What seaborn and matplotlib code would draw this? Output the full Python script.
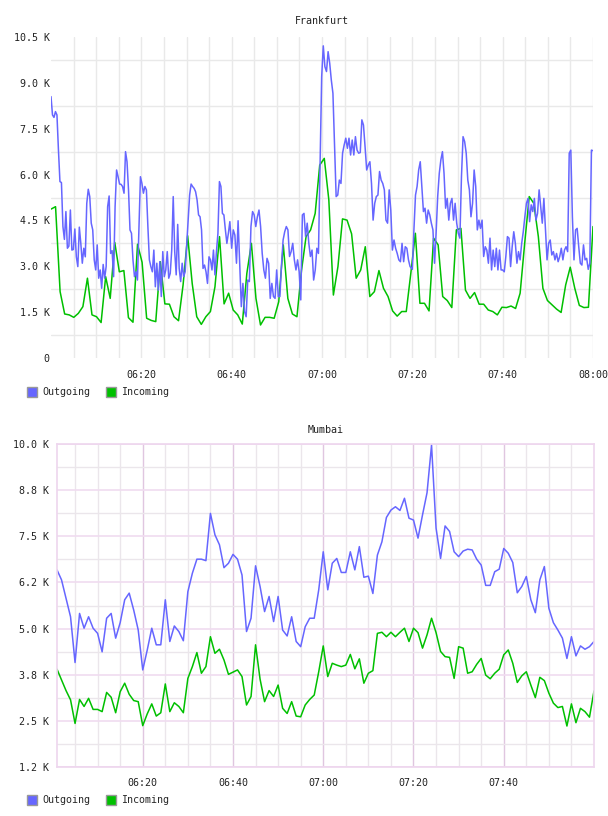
import numpy as np
import pandas as pd
import matplotlib
matplotlib.use("Agg")
import matplotlib.pyplot as plt
from matplotlib.patches import Patch
import seaborn as sns

# ---------------- data (values in K) ----------------
# Frankfurt outgoing, read in three stretches of the time axis
fra_out_a = [  # 06:00 - 06:39.6
    8.55, 7.95, 7.87, 8.06, 7.95, 6.80, 5.77, 5.74, 4.30, 3.88,
    4.79, 3.59, 3.66, 4.84, 3.53, 3.55, 4.22, 3.31, 2.99, 4.28,
    3.75, 3.10, 3.59, 3.31, 5.06, 5.52, 5.28, 4.41, 4.19, 3.21,
    2.88, 3.70, 2.61, 2.88, 2.28, 3.06, 2.61, 2.99, 4.95, 5.30,
    3.42, 3.51, 2.66, 4.95, 6.15, 5.93, 5.69, 5.68, 5.61, 5.39,
    6.75, 6.42, 5.50, 4.19, 4.08, 3.21, 2.66, 2.82, 2.55, 4.19,
    5.93, 5.71, 5.39, 5.61, 5.50, 4.30, 3.21, 2.99, 2.82, 3.53,
    2.33, 3.10, 2.22, 3.15, 2.01, 3.48, 2.66, 2.88, 3.48, 2.61,
    2.77, 3.53, 5.28, 3.48, 2.72, 4.37, 2.93, 2.50, 3.10, 2.66,
    2.82, 3.64, 4.51, 5.33, 5.69, 5.61, 5.55, 5.44, 5.17, 4.68,
    4.62, 4.19, 2.93, 3.04, 2.82, 2.44, 3.31, 3.21, 2.88, 3.53,
    2.72, 3.48, 4.08, 5.77, 5.61, 4.73, 4.68, 4.19, 3.75, 4.08,
    4.46,
]
fra_out_b = [  # 06:40 - 07:19.5
    3.59, 4.19, 4.02, 3.10, 4.49, 3.10, 1.68, 2.44, 1.52, 1.35,
    2.55, 2.50, 4.30, 4.79, 4.68, 4.30, 4.62, 4.84, 4.30, 3.42,
    2.88, 2.61, 3.26, 3.10, 1.95, 2.44, 2.01, 1.95, 2.88, 2.01,
    2.01, 3.04, 3.86, 4.13, 4.30, 4.19, 3.32, 3.48, 3.75, 3.21,
    2.88, 3.21, 2.82, 1.90, 4.68, 4.73, 3.97, 4.41, 3.75, 3.32,
    3.53, 2.55, 2.88, 3.59, 3.42, 6.37, 9.20, 10.21, 9.53, 9.37,
    10.02, 9.64, 9.09, 8.66, 6.91, 5.28, 5.33, 5.82, 5.71, 6.70,
    6.97, 7.19, 6.86, 7.19, 6.64, 7.13, 6.64, 7.24, 6.80, 6.70,
    6.72, 7.79, 7.62, 6.91, 6.15, 6.31, 6.42, 5.71, 4.51, 5.06,
    5.28, 5.33, 6.10, 5.82, 5.71, 5.50, 4.51, 4.41, 5.50, 4.84,
    3.53, 3.86, 3.59, 3.42, 3.21, 3.15, 3.75, 3.15, 3.64, 3.59,
    3.21, 2.99,
]
fra_out_c = [  # 07:20 - 08:00
    2.90, 4.19, 5.33, 5.61, 6.15, 6.42, 5.61, 4.79, 4.90, 4.41,
    4.84, 4.68, 4.41, 4.19, 3.10, 4.08, 5.28, 6.04, 6.48, 6.75,
    6.04, 4.90, 5.22, 4.51, 5.06, 5.22, 4.51, 5.06, 4.41, 4.08,
    3.92, 5.93, 7.24, 7.08, 6.70, 5.82, 5.50, 4.62, 5.06, 6.15,
    5.61, 4.19, 4.51, 4.24, 4.51, 3.32, 3.64, 3.53, 3.10, 3.92,
    2.88, 3.53, 2.99, 3.59, 2.88, 3.53, 2.88, 2.88, 2.82, 3.32,
    3.97, 3.92, 2.99, 3.64, 4.13, 3.75, 3.10, 3.48, 3.21, 3.75,
    4.13, 4.62, 5.06, 5.22, 4.46, 5.01, 4.79, 5.22, 4.51, 4.73,
    5.50, 4.95, 4.41, 5.22, 4.19, 3.21, 3.75, 3.86, 3.37, 3.48,
    3.21, 3.42, 3.15, 3.32, 3.59, 3.21, 3.53, 3.64, 3.48, 6.70,
    6.80, 4.62, 3.21, 4.19, 4.24, 3.64, 3.10, 3.04, 3.70, 3.21,
    3.26, 2.90, 3.10, 6.80, 6.78,
]
# minutes after 06:00 covered by each stretch
fra_out_spans = [(0.0, 39.6), (40.0, 79.5), (80.0, 120.0)]

fra_in = [  # one value per minute, 06:00 - 08:00
    4.87, 4.95, 2.17, 1.44, 1.41, 1.33, 1.46, 1.68, 2.61, 1.41,
    1.35, 1.16, 2.66, 1.95, 3.78, 2.82, 2.86, 1.32, 1.17, 3.72,
    3.13, 1.30, 1.23, 1.19, 3.15, 1.77, 1.76, 1.35, 1.22, 2.39,
    4.00, 2.44, 1.35, 1.10, 1.35, 1.52, 2.33, 3.97, 1.77, 2.12,
    1.57, 1.41, 1.11, 2.77, 3.75, 1.95, 1.08, 1.33, 1.33, 1.30,
    1.84, 3.70, 1.95, 1.44, 1.35, 2.86, 3.97, 4.19, 4.73, 6.31,
    6.53, 5.17, 2.06, 2.99, 4.55, 4.51, 4.06, 2.61, 2.88, 3.64,
    2.01, 2.17, 2.86, 2.28, 2.01, 1.54, 1.37, 1.52, 1.52,
    2.77, 4.08, 1.79, 1.79, 1.54, 3.92, 3.70, 2.01, 1.88, 1.65,
    4.19, 4.24, 2.22, 1.95, 2.14, 1.76, 1.76, 1.57, 1.52, 1.41,
    1.66, 1.65, 1.70, 1.62, 2.12, 3.75, 5.28, 5.06, 3.97, 2.28,
    1.88, 1.74, 1.60, 1.49, 2.39, 2.97, 2.28, 1.72, 1.65, 1.66,
    4.30,
]

mum_out = [  # one value per minute, 06:01 - 08:00
    6.59, 6.32, 5.82, 5.32, 4.08, 5.41, 5.01, 5.32, 5.01, 4.87,
    4.37, 5.28, 5.41, 4.74, 5.16, 5.78, 5.96, 5.50, 4.96, 3.88,
    4.42, 5.01, 4.56, 4.56, 5.78, 4.65, 5.07, 4.92, 4.67, 6.00,
    6.50, 6.88, 6.88, 6.84, 8.12, 7.54, 7.27, 6.65, 6.77, 7.01,
    6.88, 6.45, 4.92, 5.28, 6.70, 6.14, 5.46, 5.87, 5.19, 5.87,
    4.96, 4.80, 5.32, 4.65, 4.51, 5.05, 5.28, 5.28, 6.05, 7.08,
    6.05,
    6.77, 6.90, 6.52, 6.52, 7.08, 6.59, 7.22, 6.39, 6.42, 5.95,
    6.99, 7.35, 8.01, 8.21, 8.30, 8.20, 8.53, 7.99, 7.94, 7.45,
    8.08, 8.68, 9.97, 7.72, 6.90, 7.78, 7.63, 7.08, 6.95, 7.10,
    7.15, 7.13, 6.88, 6.72, 6.17, 6.17, 6.54, 6.61, 7.17, 7.04,
    6.79, 5.97, 6.14, 6.41, 5.78, 5.43, 6.32, 6.68, 5.55, 5.16,
    4.96, 4.74, 4.19, 4.78, 4.26, 4.53, 4.44, 4.51, 4.65,
]

mum_in = [  # one value per minute, 06:01 - 08:00
    3.90, 3.61, 3.32, 3.07, 2.43, 3.08, 2.89, 3.11, 2.81, 2.81,
    2.75, 3.27, 3.14, 2.72, 3.29, 3.52, 3.22, 3.05, 3.02, 2.37,
    2.69, 2.96, 2.63, 2.72, 3.50, 2.75, 2.99, 2.89, 2.72, 3.65,
    3.97, 4.35, 3.79, 3.97, 4.78, 4.33, 4.44, 4.15, 3.76, 3.82,
    3.88, 3.70, 2.93, 3.16, 4.56, 3.63, 3.02, 3.32, 3.16, 3.47,
    2.84, 2.70, 3.02, 2.63, 2.61, 2.93, 3.08, 3.20, 3.83, 4.53,
    3.70,
    4.06, 4.01, 3.97, 4.01, 4.30, 3.91, 4.18, 3.52, 3.79, 3.86,
    4.87, 4.90, 4.78, 4.90, 4.78, 4.90, 5.01, 4.65, 5.01, 4.89,
    4.47, 4.83, 5.28, 4.89, 4.38, 4.24, 4.22, 3.65, 4.51, 4.47,
    3.79, 3.83, 4.03, 4.19, 3.74, 3.64, 3.79, 3.90, 4.29, 4.42,
    4.06, 3.54, 3.72, 3.83, 3.47, 3.13, 3.68, 3.59, 3.25, 2.98,
    2.86, 2.89, 2.36, 2.96, 2.45, 2.84, 2.75, 2.60, 3.31,
]

series_names = ["Outgoing", "Incoming"]
series_colors = ["#6666ff", "#00c000"]
time_labels = ["06:20", "06:40", "07:00", "07:20", "07:40", "08:00"]
fra_yticks = [0, 1.5, 3.0, 4.5, 6.0, 7.5, 9.0, 10.5]
mum_yticks = [1.25, 2.5, 3.75, 5.0, 6.25, 7.5, 8.75, 10.0]

# ---------------- tidy frames ----------------
fra_out_t = np.concatenate([np.linspace(a, b, len(seg)) for seg, (a, b) in
                            zip([fra_out_a, fra_out_b, fra_out_c], fra_out_spans)])
fra_out = fra_out_a + fra_out_b + fra_out_c

df_fra = pd.concat([
    pd.DataFrame({"t": fra_out_t, "v": fra_out, "s": "Outgoing"}),
    pd.DataFrame({"t": np.linspace(0, 120, len(fra_in)), "v": fra_in, "s": "Incoming"}),
], ignore_index=True)
df_mum = pd.concat([
    pd.DataFrame({"t": np.linspace(1, 120, len(mum_out)), "v": mum_out, "s": "Outgoing"}),
    pd.DataFrame({"t": np.linspace(1, 120, len(mum_in)), "v": mum_in, "s": "Incoming"}),
], ignore_index=True)

sns.set_style("white")
plt.rcParams["font.family"] = ["DejaVu Sans Mono"]
FS = 7.2
TXT = "#222222"

fig = plt.figure(figsize=(6.08, 8.16), dpi=100)
W, H = 608, 816

def axes_px(l, t, r, b):
    return fig.add_axes([l / W, 1 - b / H, (r - l) / W, (b - t) / H])

ax1 = axes_px(51, 37, 593, 358)
ax2 = axes_px(57, 444, 594, 767)

pal = dict(zip(series_names, series_colors))

for ax, df in ((ax1, df_fra), (ax2, df_mum)):
    sns.lineplot(data=df, x="t", y="v", hue="s", hue_order=series_names[::-1],
                 palette=pal, estimator=None, sort=False, lw=1.1,
                 legend=False, ax=ax)
    ax.set_xlabel("")
    ax.set_ylabel("")
    ax.set_axisbelow(True)
    ax.tick_params(length=0, labelsize=FS, colors=TXT)
    ax.tick_params(which="minor", length=0)

# ---- top: Frankfurt ----
ax1.set_xlim(0, 120)
ax1.set_ylim(0, 10.5)
ax1.set_xticks([20, 40, 60, 80, 100, 120])
ax1.set_xticklabels(time_labels)
ax1.set_xticks(np.arange(5, 121, 5), minor=True)
ax1.set_yticks(fra_yticks)
ax1.set_yticklabels(["0" if v == 0 else f"{v:.1f} K" for v in fra_yticks])
ax1.set_yticks(np.arange(0.75, 10.5, 1.5), minor=True)
ax1.tick_params(axis="y", pad=1)
ax1.tick_params(axis="x", pad=9)
ax1.grid(False)
ax1.grid(which="minor", axis="both", color="#e9e9e9", lw=1.0)
ax1.grid(which="major", axis="x", color="#e9e9e9", lw=1.0)
for s in ax1.spines.values():
    s.set_visible(False)
ax1.set_title("Frankfurt", fontsize=FS, pad=9, color=TXT)

# ---- bottom: Mumbai ----
ax2.set_xlim(1, 120)
ax2.set_ylim(1.25, 10.0)
ax2.set_xticks([20, 40, 60, 80, 100])
ax2.set_xticklabels(time_labels[:5])
ax2.set_xticks(np.arange(5, 120, 5), minor=True)
ax2.set_yticks(mum_yticks)
ax2.set_yticklabels([f"{v:.1f} K" for v in mum_yticks])
ax2.set_yticks(np.arange(1.875, 10.0, 1.25), minor=True)
ax2.tick_params(axis="y", pad=6)
ax2.tick_params(axis="x", pad=8)
ax2.grid(which="minor", axis="both", color="#ebe6eb", lw=1.0)
ax2.grid(which="major", axis="y", color="#f0dcf0", lw=1.2)
ax2.grid(which="major", axis="x", color="#e0c6e0", lw=1.0)
for s in ax2.spines.values():
    s.set_color("#eed6ee")
    s.set_linewidth(1.2)
ax2.set_title("Mumbai", fontsize=FS, pad=8, color=TXT)

# ---- legends ----
handles = [Patch(facecolor=c, edgecolor="#999999", lw=1.0, label=n)
           for n, c in zip(series_names, series_colors)]
for ycen in (392, 800):
    fig.legend(handles=handles, loc="center left",
               bbox_to_anchor=(20 / W, 1 - ycen / H), ncol=2, frameon=False,
               fontsize=FS, handlelength=1.0, handleheight=1.1,
               handletextpad=0.5, columnspacing=1.6, borderpad=0.2)

fig.savefig("out.png", dpi=100)
